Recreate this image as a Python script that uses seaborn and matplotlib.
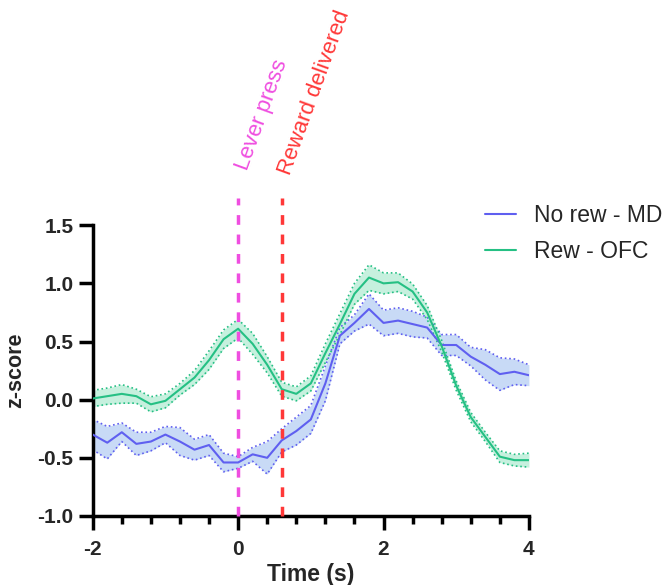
import numpy as np
import pandas as pd
import matplotlib.pyplot as plt
from matplotlib.ticker import MultipleLocator
import seaborn as sns

# tempo em relação ao lever press (s)
tempo = [-2.0, -1.8, -1.6, -1.4, -1.2, -1.0, -0.8, -0.6, -0.4, -0.2,
         0.0, 0.2, 0.4, 0.6, 0.8, 1.0, 1.2, 1.4, 1.6, 1.8,
         2.0, 2.2, 2.4, 2.6, 2.8, 3.0, 3.2, 3.4, 3.6, 3.8, 4.0]

md_media = [-0.30, -0.37, -0.28, -0.38, -0.36, -0.30, -0.36, -0.43, -0.39, -0.54,
            -0.54, -0.47, -0.50, -0.35, -0.27, -0.17, 0.14, 0.55, 0.66, 0.78,
            0.66, 0.68, 0.65, 0.62, 0.47, 0.47, 0.37, 0.30, 0.22, 0.24, 0.21]
md_sem = [0.13, 0.14, 0.08, 0.10, 0.08, 0.07, 0.12, 0.09, 0.09, 0.08,
          0.05, 0.06, 0.14, 0.10, 0.12, 0.12, 0.15, 0.07, 0.07, 0.13,
          0.11, 0.11, 0.11, 0.09, 0.09, 0.09, 0.08, 0.13, 0.14, 0.11, 0.09]

ofc_media = [0.01, 0.03, 0.05, 0.03, -0.04, -0.01, 0.09, 0.19, 0.34, 0.52,
             0.61, 0.48, 0.30, 0.09, 0.05, 0.14, 0.40, 0.65, 0.91, 1.05,
             1.00, 1.01, 0.93, 0.75, 0.46, 0.12, -0.15, -0.32, -0.49, -0.52, -0.52]
ofc_sem = [0.07, 0.07, 0.08, 0.06, 0.065, 0.06, 0.05, 0.06, 0.08, 0.08,
           0.08, 0.09, 0.07, 0.06, 0.06, 0.065, 0.08, 0.09, 0.09, 0.11,
           0.09, 0.08, 0.065, 0.06, 0.05, 0.04, 0.04, 0.04, 0.05, 0.05, 0.06]

grupos = ["No rew - MD", "Rew - OFC"]
eventos = ["Lever press", "Reward delivered"]
eventos_t = [0.0, 0.6]

cor_linha = {"No rew - MD": "#5f5ff0", "Rew - OFC": "#25c084"}
cor_banda = {"No rew - MD": "#c8daf6", "Rew - OFC": "#c6f0de"}
cor_evento = ["#ef4ee0", "#ff3838"]

df = pd.concat([
    pd.DataFrame({"Tempo": tempo, "z": md_media, "sem": md_sem, "Grupo": grupos[0]}),
    pd.DataFrame({"Tempo": tempo, "z": ofc_media, "sem": ofc_sem, "Grupo": grupos[1]}),
], ignore_index=True)

sns.set_style("ticks")
plt.rcParams["font.family"] = ["Liberation Sans", "DejaVu Sans"]
plt.rcParams["axes.unicode_minus"] = False

fig = plt.figure(figsize=(6.67, 5.85), dpi=100)
ax = fig.add_axes([0.139, 0.118, 0.654, 0.497])

# bandas de erro (SEM) com bordas pontilhadas
for g in grupos:
    d = df[df["Grupo"] == g]
    ax.fill_between(d["Tempo"], d["z"] - d["sem"], d["z"] + d["sem"],
                    color=cor_banda[g], lw=0, zorder=1)
    ax.plot(d["Tempo"], d["z"] - d["sem"], ls=":", lw=1.2, color=cor_linha[g], zorder=2)
    ax.plot(d["Tempo"], d["z"] + d["sem"], ls=":", lw=1.2, color=cor_linha[g], zorder=2)

sns.lineplot(data=df, x="Tempo", y="z", hue="Grupo", palette=cor_linha,
             hue_order=grupos, lw=1.5, ax=ax, zorder=3)

# linhas de eventos
for t, nome, c, yt in zip(eventos_t, eventos, cor_evento, [1.96, 1.92]):
    ax.plot([t, t], [-1.0, 1.73], ls=(0, (2.8, 2.8)), lw=2.5, color=c,
            clip_on=False, zorder=4)
    ax.text(t + 0.12, yt, nome, rotation=70, rotation_mode="anchor",
            ha="left", va="baseline", fontsize=16, color=c, clip_on=False)

ax.set_xlim(-2, 4)
ax.set_ylim(-1.0, 1.5)
ax.xaxis.set_major_locator(MultipleLocator(2))
ax.xaxis.set_minor_locator(MultipleLocator(0.4))
ax.yaxis.set_major_locator(MultipleLocator(0.5))
ax.yaxis.set_major_formatter(plt.FormatStrFormatter("%.1f"))

sns.despine(ax=ax)
for s in ["left", "bottom"]:
    ax.spines[s].set_linewidth(2.5)
    ax.spines[s].set_color("black")

ax.tick_params(axis="both", which="major", length=10, width=2.5, color="black")
ax.tick_params(axis="x", which="minor", length=6, width=2.5, color="black")
ax.tick_params(axis="x", which="major", pad=7)
ax.tick_params(axis="y", which="major", pad=4)
for lab in ax.get_xticklabels() + ax.get_yticklabels():
    lab.set_fontsize(15)
    lab.set_fontweight("bold")

ax.set_xlabel("Time (s)", fontsize=16.5, fontweight="bold", labelpad=3)
ax.set_ylabel("z-score", fontsize=15.5, fontweight="bold", labelpad=8)

handles, labels = ax.get_legend_handles_labels()
ax.legend(handles, labels, loc="upper left", frameon=False, fontsize=16.5,
          bbox_to_anchor=(485 / 667, (585 - 204) / 585),
          bbox_transform=fig.transFigure, borderaxespad=0, borderpad=0,
          handlelength=1.35, handletextpad=0.8, labelspacing=0.55)

plt.savefig("out.png", dpi=100)
